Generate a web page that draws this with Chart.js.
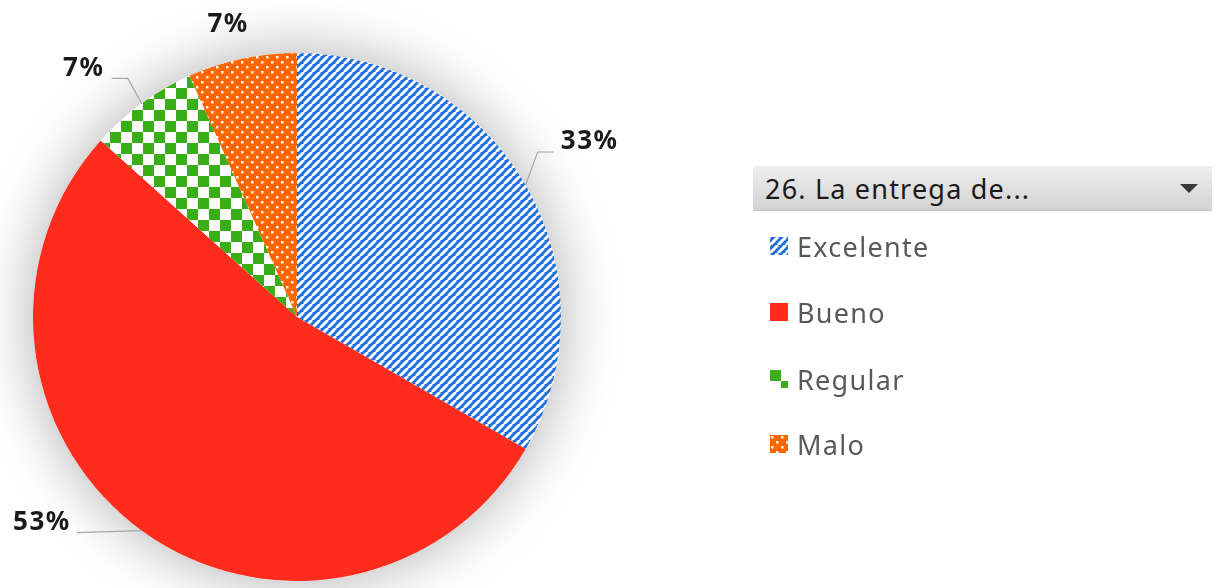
<!DOCTYPE html>
<html>
<head>
<meta charset="utf-8">
<script src="https://cdn.jsdelivr.net/npm/chart.js@4.4.1/dist/chart.umd.min.js"></script>
<style>
  body { margin: 0; background: #fff; font-family: "Noto Sans", sans-serif; }
  #wrap { position: relative; width: 1216px; height: 588px; }
  #pieChart { position: absolute; left: 0; top: 0; }
  .field-btn {
    position: absolute; left: 753px; top: 166px; width: 459px; height: 45px;
    background: linear-gradient(#eeeeee, #d3d3d3);
    border-bottom: 1px solid #c4c4c4;
    box-sizing: border-box;
    font-size: 27px; letter-spacing: 1.2px; color: #1a1a1a; line-height: 45px; padding-left: 12px;
  }
  .field-btn .arrow {
    position: absolute; right: 14px; top: 18px; width: 0; height: 0;
    border-left: 9px solid transparent; border-right: 9px solid transparent;
    border-top: 9px solid #3a3a3a;
  }
  .legend-item { position: absolute; left: 770px; height: 30px; display: flex; align-items: center; }
  .legend-item canvas { width: 18px; height: 18px; margin-right: 9px; }
  .legend-item span { font-size: 27px; letter-spacing: 1.3px; color: #595959; }
</style>
</head>
<body>
<div id="wrap">
  <canvas id="pieChart" width="1216" height="588"></canvas>
  <div class="field-btn">26. La entrega de...<div class="arrow"></div></div>
  <div id="legend"></div>
</div>
<script>
const categories = ["Excelente", "Bueno", "Regular", "Malo"];
const values = [33.33, 53.33, 6.67, 6.67];
const pctLabels = ["33%", "53%", "7%", "7%"];

// label placement relative to the slice's outer edge point (Excel-like manual layout)
const labelOffsets = [[64, -43], [-100, -8], [-58, -35], [-14, -34]];
const leaderPoints = [
  [[12, -33], [28, -33]],
  [[-65, 2]],
  [[-14, -25], [-30, -25]],
  []
];
const legendTops = [231, 297, 364, 429];

function makeTile(size, draw) {
  const c = document.createElement("canvas");
  c.width = size; c.height = size;
  draw(c.getContext("2d"), size);
  return c;
}

function stripes(ctx, s) {
  ctx.fillStyle = "#1f6fd8";
  ctx.fillRect(0, 0, s, s);
  ctx.strokeStyle = "#ffffff";
  ctx.lineWidth = 3;
  for (let k = -1; k <= 1; k++) {
    ctx.beginPath();
    ctx.moveTo(k * s, s);
    ctx.lineTo(k * s + s, 0);
    ctx.stroke();
  }
}

function checker(ctx, s) {
  const h = s / 2;
  ctx.fillStyle = "#ffffff";
  ctx.fillRect(0, 0, s, s);
  ctx.fillStyle = "#3aae16";
  ctx.fillRect(0, 0, h, h);
  ctx.fillRect(h, h, h, h);
}

function dots(ctx, s) {
  ctx.fillStyle = "#ff6600";
  ctx.fillRect(0, 0, s, s);
  ctx.fillStyle = "rgba(255,255,255,0.92)";
  ctx.fillRect(1, 1, 2.5, 2.5);
  ctx.fillRect(6, 6, 2.5, 2.5);
}

function buildFills(ctx) {
  return [
    ctx.createPattern(makeTile(8, stripes), "repeat"),
    "#ff2b1c",
    ctx.createPattern(makeTile(22, checker), "repeat"),
    ctx.createPattern(makeTile(10, dots), "repeat")
  ];
}

const pieShadow = {
  id: "pieShadow",
  beforeDatasetsDraw(chart) {
    const arc = chart.getDatasetMeta(0).data[0];
    const ctx = chart.ctx;
    ctx.save();
    ctx.shadowColor = "rgba(0,0,0,0.32)";
    ctx.shadowBlur = 60;
    ctx.fillStyle = "#ffffff";
    ctx.beginPath();
    ctx.arc(arc.x, arc.y, arc.outerRadius, 0, Math.PI * 2);
    ctx.fill();
    ctx.restore();
  }
};

const pctLabelPlugin = {
  id: "pctLabels",
  afterDatasetsDraw(chart) {
    const ctx = chart.ctx;
    chart.getDatasetMeta(0).data.forEach((arc, i) => {
      const mid = (arc.startAngle + arc.endAngle) / 2;
      const ex = arc.x + Math.cos(mid) * arc.outerRadius;
      const ey = arc.y + Math.sin(mid) * arc.outerRadius;
      const pts = leaderPoints[i];
      if (pts.length) {
        ctx.save();
        ctx.strokeStyle = "#a6a6a6";
        ctx.lineWidth = 1.2;
        ctx.beginPath();
        ctx.moveTo(ex, ey);
        pts.forEach(p => ctx.lineTo(ex + p[0], ey + p[1]));
        ctx.stroke();
        ctx.restore();
      }
      ctx.save();
      ctx.font = "bold 26px 'Noto Sans'";
      ctx.letterSpacing = "1.5px";
      ctx.fillStyle = "#1a1a1a";
      ctx.textAlign = "center";
      ctx.textBaseline = "middle";
      ctx.fillText(pctLabels[i], ex + labelOffsets[i][0], ey + labelOffsets[i][1]);
      ctx.restore();
    });
  }
};

document.addEventListener("DOMContentLoaded", () => {
  const canvas = document.getElementById("pieChart");
  const fills = buildFills(canvas.getContext("2d"));

  const chart = new Chart(canvas, {
    type: "pie",
    data: {
      labels: categories,
      datasets: [{
        data: values,
        backgroundColor: fills,
        borderWidth: 0,
        hoverOffset: 0
      }]
    },
    options: {
      responsive: false,
      animation: false,
      layout: { padding: { left: 0, right: 622, top: 53, bottom: 7 } },
      plugins: {
        legend: { display: false },
        tooltip: { enabled: false }
      }
    },
    plugins: [pieShadow, pctLabelPlugin]
  });

  // html legend next to the pivot field button
  const legend = document.getElementById("legend");
  chart.data.labels.forEach((name, i) => {
    const item = document.createElement("div");
    item.className = "legend-item";
    item.style.top = legendTops[i] + "px";
    const sw = document.createElement("canvas");
    sw.width = 18; sw.height = 18;
    const sctx = sw.getContext("2d");
    const swFills = buildFills(sctx);
    sctx.fillStyle = swFills[i];
    sctx.fillRect(0, 0, 18, 18);
    const txt = document.createElement("span");
    txt.textContent = name;
    item.appendChild(sw);
    item.appendChild(txt);
    legend.appendChild(item);
  });
});
</script>
</body>
</html>
